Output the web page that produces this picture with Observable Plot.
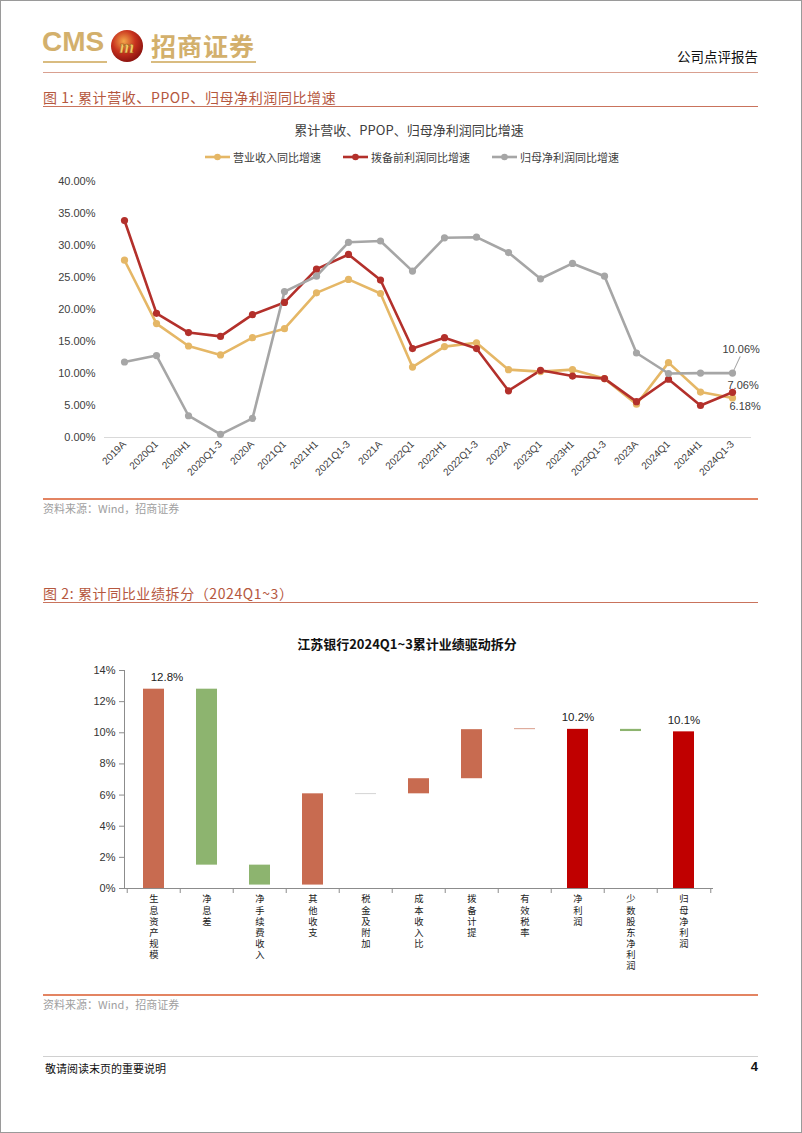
<!DOCTYPE html>
<html><head><meta charset="utf-8">
<script src="https://cdn.jsdelivr.net/npm/d3@7"></script>
<script src="https://cdn.jsdelivr.net/npm/@observablehq/plot@0.6"></script>
<style>
body{margin:0;background:#fff;}
#page{position:relative;width:802px;height:1133px;overflow:hidden;font-family:"Liberation Sans","Noto Sans CJK SC",sans-serif;color:#222;background:#fff;}
.abs{position:absolute;white-space:nowrap;}
.cjk{font-family:"Noto Sans CJK SC","Liberation Sans",sans-serif;}
.rule{position:absolute;left:43px;width:715px;}
</style></head>
<body><div id="page">
  <div class="abs" style="left:42px;top:26px;font-size:28px;font-weight:bold;color:#D3B06C;letter-spacing:0px;">CMS</div>
  <div class="abs" style="left:43px;top:61px;width:64px;height:2px;background:#D9BC80;"></div>
  <svg class="abs" style="left:110px;top:29px" width="34" height="34" viewBox="0 0 34 34">
    <defs><radialGradient id="ball" cx="40%" cy="35%" r="65%"><stop offset="0%" stop-color="#F3A84A"/><stop offset="55%" stop-color="#C8321E"/><stop offset="100%" stop-color="#8E1410"/></radialGradient></defs>
    <circle cx="17" cy="17" r="16" fill="url(#ball)"/>
    <text x="17" y="23.5" text-anchor="middle" font-size="19" font-weight="bold" font-style="italic" font-family="Liberation Serif" fill="#F6CC66" stroke="#8a4a10" stroke-width="0.4">m</text>
  </svg>
  <div class="abs cjk" style="left:151px;top:27px;font-size:25px;font-weight:bold;color:#D3B06C;letter-spacing:1px;">招商证券</div>
  <div class="abs" style="left:151px;top:61px;width:105px;height:2px;background:#D9BC80;"></div>
  <div class="abs cjk" style="right:44px;top:46px;font-size:13.5px;color:#111;">公司点评报告</div>
  <div class="rule" style="top:72px;height:1px;background:#D9A090;"></div>

  <div class="abs cjk" style="left:43px;top:87px;font-size:14px;color:#B5573E;letter-spacing:0.6px;">图 1:&nbsp;累计营收、PPOP、归母净利润同比增速</div>
  <div class="rule" style="top:106px;height:1px;background:#C9735C;"></div>
  <div class="abs cjk" style="left:0;width:818px;text-align:center;top:120px;font-size:13px;color:#404040;">累计营收、PPOP、归母净利润同比增速</div>
  <div id="legend1" class="abs cjk" style="left:205px;top:149px;display:flex;gap:22px;font-size:11px;color:#404040;"></div>
  <div id="chart1" class="abs" style="left:0;top:172px;"></div>
  <div class="rule" style="top:498px;height:1.5px;background:#E38462;"></div>
  <div class="abs cjk" style="left:43px;top:500px;font-size:11px;color:#a0a0a0;">资料来源：Wind，招商证券</div>

  <div class="abs cjk" style="left:43px;top:583px;font-size:14px;color:#B5573E;letter-spacing:0.6px;">图 2:&nbsp;累计同比业绩拆分（2024Q1~3）</div>
  <div class="rule" style="top:602px;height:1px;background:#C9735C;"></div>
  <div class="abs cjk" style="left:0;width:814px;text-align:center;top:634px;font-size:13px;font-weight:bold;color:#111;">江苏银行2024Q1~3累计业绩驱动拆分</div>
  <div id="chart2" class="abs" style="left:0;top:655px;"></div>
  <div class="rule" style="top:994px;height:1.5px;background:#E38462;"></div>
  <div class="abs cjk" style="left:43px;top:996px;font-size:11px;color:#a0a0a0;">资料来源：Wind，招商证券</div>

  <div class="rule" style="top:1056px;height:1px;background:#d0d0d0;"></div>
  <div class="abs cjk" style="left:45px;top:1060px;font-size:11px;color:#111;">敬请阅读末页的重要说明</div>
  <div class="abs" style="right:44px;top:1059px;font-size:13px;font-weight:bold;color:#111;">4</div>
  <div class="abs" style="left:0;top:0;width:800px;height:1131px;border:1px solid #9a9a9a;pointer-events:none;"></div>
</div>
<script>
// ---------- Chart 1 data ----------
const periods = ["2019A","2020Q1","2020H1","2020Q1-3","2020A","2021Q1","2021H1","2021Q1-3","2021A","2022Q1","2022H1","2022Q1-3","2022A","2023Q1","2023H1","2023Q1-3","2023A","2024Q1","2024H1","2024Q1-3"];
const revenueYoY   = [27.7,17.8,14.3,12.9,15.6,17.0,22.6,24.7,22.5,11.0,14.2,14.8,10.6,10.3,10.6,9.2,5.2,11.7,7.1,6.18];
const ppopYoY      = [33.9,19.4,16.4,15.8,19.2,21.1,26.3,28.6,24.6,13.9,15.6,13.9,7.3,10.5,9.6,9.2,5.6,9.1,5.0,7.06];
const netProfitYoY = [11.8,12.8,3.4,0.5,3.0,22.8,25.2,30.5,30.7,26.0,31.2,31.3,28.9,24.8,27.2,25.2,13.2,10.0,10.06,10.06];
const seriesNames  = ["营业收入同比增速","拨备前利润同比增速","归母净利润同比增速"];
const seriesColors = ["#E5B766","#B3302B","#A6A6A6"];
const yTicks1 = [0,5,10,15,20,25,30,35,40];

// ---------- Chart 2 data ----------
const drivers = ["生息资产规模","净息差","净手续费收入","其他收支","税金及附加","成本收入比","拨备计提","有效税率","净利润","少数股东净利润","归母净利润"];
const barStart = [0, 12.8, 1.5, 0.22, 6.1, 6.08, 7.05, 10.2, 0, 10.22, 0];
const barEnd   = [12.8, 1.5, 0.22, 6.08, 6.03, 7.05, 10.2, 10.27, 10.22, 10.08, 10.06];
const barKind  = ["up","down","down","up","flat","up","up","flatUp","total","down","total"];
const barLabels = ["12.8%","","","","","","","","10.2%","","10.1%"];
const kindNames = ["up","down","total","flat","flatUp"];
const kindColors = ["#C86B50","#8DB46F","#C00000","#D8D8D8","#DDA595"];
const yTicks2 = [0,2,4,6,8,10,12,14];

const sans = "'Liberation Sans','Noto Sans CJK SC',sans-serif";

// legend
const leg = document.getElementById("legend1");
seriesNames.forEach((n,i)=>{
  const item = document.createElement("div");
  item.style.display="flex"; item.style.alignItems="center"; item.style.gap="3px";
  item.innerHTML = `<svg width="25" height="10"><line x1="0" y1="5" x2="25" y2="5" stroke="${seriesColors[i]}" stroke-width="2.6"/><circle cx="12.5" cy="5" r="3.3" fill="${seriesColors[i]}"/></svg><span>${n}</span>`;
  leg.appendChild(item);
});

const rows1 = [];
[revenueYoY, ppopYoY, netProfitYoY].forEach((arr,s)=>arr.forEach((v,i)=>rows1.push({period:periods[i], series:seriesNames[s], value:v})));
const last = periods[periods.length-1];
const lastRow = s => rows1.filter(d=>d.period===last && d.series===seriesNames[s]);

const chart1 = Plot.plot({
  width: 802, height: 322,
  marginLeft: 104, marginRight: 51, marginTop: 9, marginBottom: 57,
  style: {fontFamily: sans, fontSize: "11px", color: "#404040", overflow: "visible", background: "transparent"},
  x: {type: "point", domain: periods, padding: 0.5, label: null},
  y: {domain: [0, 40], label: null},
  color: {domain: seriesNames, range: seriesColors},
  marks: [
    Plot.ruleY([0], {stroke: "#d9d9d9", strokeWidth: 1.2}),
    Plot.axisY({ticks: yTicks1, tickSize: 0, tickPadding: 9, tickFormat: d => d.toFixed(2) + "%", fontSize: 11}),
    Plot.axisX({tickRotate: -45, tickSize: 0, tickPadding: 5, fontSize: 10}),
    Plot.line(rows1, {x: "period", y: "value", z: "series", stroke: "series", strokeWidth: 2.6}),
    Plot.dot(rows1, {x: "period", y: "value", fill: "series", r: 3.6}),
    Plot.vector(lastRow(2), {x: "period", y: "value", length: 18, rotate: 25, anchor: "start", stroke: "#a6a6a6", strokeWidth: 1,
      shape: {draw(ctx, l) { ctx.moveTo(0, 0); ctx.lineTo(0, -l); }}}),
    Plot.text(lastRow(2), {x: "period", y: "value", text: d => d.value.toFixed(2) + "%", dx: -10, dy: -24, textAnchor: "start", fontSize: 11, fill: "#404040"}),
    Plot.text(lastRow(1), {x: "period", y: "value", text: d => d.value.toFixed(2) + "%", dx: -5, dy: -7, textAnchor: "start", fontSize: 11, fill: "#404040"}),
    Plot.text(lastRow(0), {x: "period", y: "value", text: d => d.value.toFixed(2) + "%", dx: -3, dy: 9, textAnchor: "start", fontSize: 11, fill: "#404040"})
  ]
});
document.getElementById("chart1").appendChild(chart1);

// chart 2
const rows2 = drivers.map((n,i)=>({name:n, start:barStart[i], end:barEnd[i], kind:barKind[i], label:barLabels[i]}));
const W2 = 802, ML2 = 124, MR2 = 89;
const step2 = (W2 - ML2 - MR2) / drivers.length;
const axisGray = "#8c8c8c";
const chart2 = Plot.plot({
  width: W2, height: 330,
  marginLeft: ML2, marginRight: MR2, marginTop: 15, marginBottom: 97,
  style: {fontFamily: sans, fontSize: "11px", color: "#333", overflow: "visible", background: "transparent"},
  x: {domain: drivers, paddingInner: 0.6, paddingOuter: 0.3, label: null},
  y: {domain: [0, 14], label: null},
  color: {domain: kindNames, range: kindColors},
  marks: [
    Plot.barY(rows2, {x: "name", y1: "start", y2: "end", fill: "kind"}),
    Plot.ruleY([0], {stroke: axisGray}),
    Plot.frame({anchor: "left", stroke: axisGray}),
    Plot.axisY({ticks: yTicks2, tickFormat: d => d + "%", tickSize: 5, tickPadding: 4, stroke: axisGray, fontSize: 11}),
    Plot.axisX({tickSize: 5, tickFormat: () => "", dx: -step2 / 2, stroke: axisGray}),
    Plot.axisX({ticks: [drivers[drivers.length - 1]], tickSize: 5, tickFormat: () => "", dx: step2 / 2, stroke: axisGray}),
    Plot.axisX({tickSize: 0, tickPadding: 6, tickFormat: d => d.split("").join("\n"), fontSize: 9.3, lineHeight: 1.2, fontFamily: "'Noto Sans CJK SC',sans-serif", fill: "#222"}),
    Plot.text(rows2.slice(0, 1), {x: "name", y: "end", text: "label", dy: -12, dx: 13, fontSize: 11.5, fill: "#222"}),
    Plot.text(rows2.slice(1).filter(d => d.label), {x: "name", y: "end", text: "label", dy: -12, fontSize: 11.5, fill: "#222"})
  ]
});
document.getElementById("chart2").appendChild(chart2);
</script>
</body></html>
